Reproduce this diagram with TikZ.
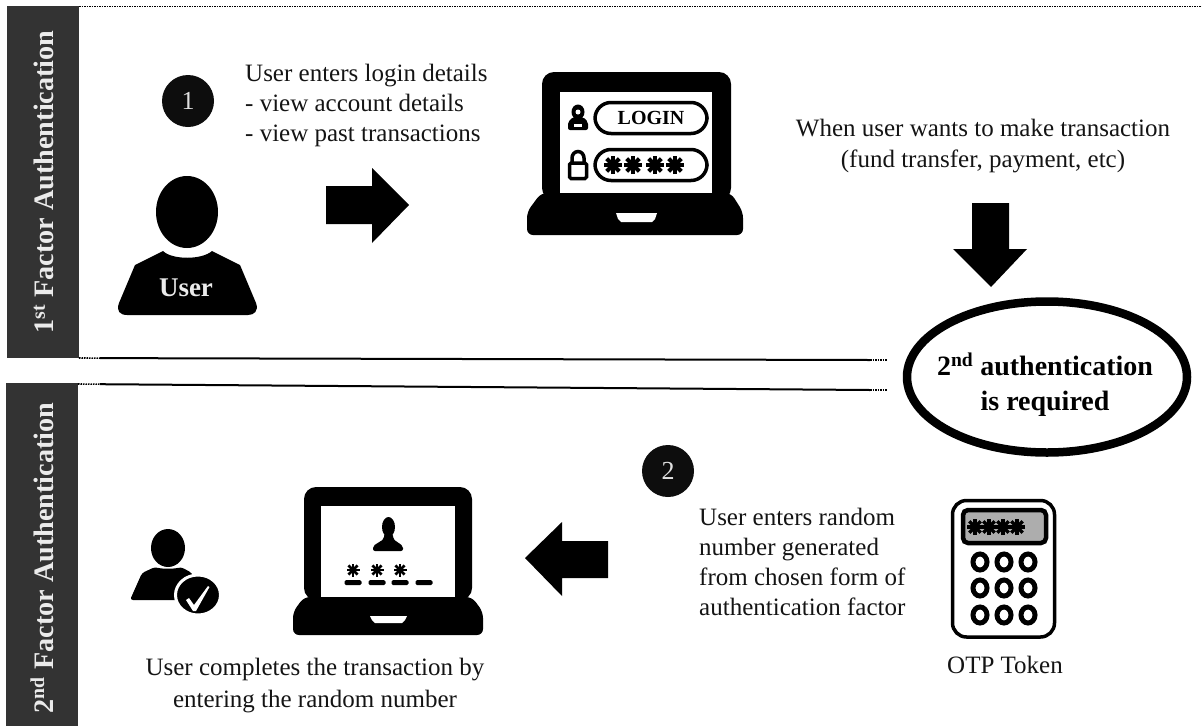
\documentclass[tikz,border=0pt]{standalone}
\usepackage{fontspec}
\usetikzlibrary{shapes.geometric,calc}
\setmainfont{Liberation Serif}
\tikzset{
  txt/.style={font=\fontsize{25}{30}\selectfont,inner sep=0pt,text=black!92},
  bandtxt/.style={font=\fontsize{28.2}{30}\selectfont\bfseries,text=white!92!black,rotate=90,inner sep=0pt},
  band/.style={fill=black!80,draw=none},
  blk/.style={fill=black,draw=none},
  wht/.style={fill=white,draw=none},
  numdisc/.style={circle,fill=black!95,minimum size=52pt,inner sep=0pt,text=white!88!black,font=\fontsize{26}{28}\selectfont},
  rule/.style={draw=black,line width=2pt},
  dots/.style={draw=black,line width=1.6pt,dash pattern=on 1.5pt off 1pt},
  pill/.style={draw=black,line width=3.5pt,fill=white,rounded corners=16pt},
}
\newcommand{\astr}[4]{% x,y,radius,width
  \foreach \a in {0,45,90,135}{
    \draw[line width=#4,black] ($(#1,#2)+(\a:#3)$) -- ($(#1,#2)+(\a+180:#3)$);
  }
}
\begin{document}
\begin{tikzpicture}[x=1pt,y=-1pt]
\useasboundingbox (0,0) rectangle (1202,726);
% bands and rules
\fill[band] (7,6) rectangle (79,358);
\fill[band] (6,383) rectangle (78,726);
\node[bandtxt] (b1) at (44,182) {1\textsuperscript{st} Factor Authentication};
\node[bandtxt] (b2) at (42,558) {2\textsuperscript{nd} Factor Authentication};
\draw[dots] (79,6.5) -- (1202,6.5);
\draw[dots] (79,358) -- (100,358.1);
\draw[rule] (100,358.1) -- (870,360);
\draw[dots] (870,360) -- (887,360);
\draw[dots] (78,384) -- (100,384.2);
\draw[rule] (100,384.2) -- (870,390);
\draw[dots] (870,390) -- (887,390);
% step 1
\node[numdisc] (n1) at (188,101) {1};
\fill[blk] (187,212) ellipse [x radius=31,y radius=36];
\fill[blk] (163,251) .. controls (172,260) and (202,260) .. (212,251) -- (240,265)
  -- (256,303) .. controls (259,311) and (254,315) .. (248,315) -- (127,315)
  .. controls (120,315) and (116,311) .. (119,303) -- (135,265) -- cycle;
\node[font=\fontsize{27}{28}\selectfont\bfseries,text=white!92!black,inner sep=0pt] (u) at (186,288) {User};
\node[txt,align=left,anchor=west] (t1) at (245,105) {User enters login details\\- view account details\\- view past transactions};
\fill[blk] (326,186) -- (372,186) -- (372,168) -- (409,205) -- (372,243) -- (372,224) -- (326,224) -- cycle;
% laptop 1
\fill[blk,rounded corners=12pt] (542,200) -- (542,72) -- (731,72) -- (731,200) -- cycle;
\fill[blk,rounded corners=6pt] (541,193) -- (527,212) -- (527,235) -- (743,235) -- (743,212) -- (731,193) -- cycle;
\fill[wht] (560,92) rectangle (712,193);
\fill[wht] (616,213) -- (657,213) -- (655,219) -- (652,222) -- (621,222) -- (618,219) -- cycle;
\node[pill,minimum width=112pt,minimum height=31pt,inner sep=0pt,font=\fontsize{20}{20}\selectfont\bfseries] (login) at (651,118) {LOGIN};
\node[pill,minimum width=112pt,minimum height=31pt,inner sep=0pt] (pass) at (651,165) {};
\astr{613}{165}{9}{4pt}
\astr{633}{165}{9}{4pt}
\astr{655}{165}{9}{4pt}
\astr{675}{165}{9}{4pt}
\fill[blk] (578,112) ellipse [x radius=6.5,y radius=7.5];
\fill[blk,rounded corners=2pt] (568,130) -- (568,122) -- (573,117) -- (583,117) -- (588,122) -- (588,130) -- cycle;
\fill[wht] (578,112) circle [radius=2.5];
\fill[wht] (574,124) rectangle (582,127);
\draw[line width=3.5pt] (572,163) -- (572,158) arc [start angle=180,end angle=360,x radius=6,y radius=6.5] -- (584,163);
\draw[line width=3.5pt,fill=white,rounded corners=1.5pt] (569.5,163) rectangle (586.5,178.5);
% top right
\node[txt,align=center] (t2) at (983,146.5) {When user wants to make transaction\\[1pt](fund transfer, payment, etc)};
\fill[blk] (972,203) -- (1009,203) -- (1009,249) -- (1027,249) -- (991,287) -- (953,249) -- (972,249) -- cycle;
\node[ellipse,draw=black,line width=8.5pt,minimum width=280pt,minimum height=151pt,inner sep=0pt] (e) at (1047,377) {};
\node[align=center,inner sep=0pt,font=\fontsize{28}{35}\selectfont\bfseries] (et) at (1045,385) {2\textsuperscript{nd} authentication\\is required};
% step 2
\node[numdisc] (n2) at (668,471) {2};
\node[txt,align=left,anchor=west] (t3) at (699,562) {User enters random\\number generated\\from chosen form of\\authentication factor};
\fill[blk] (608,541) -- (562,541) -- (562,522) -- (525,558) -- (562,596) -- (562,578) -- (608,578) -- cycle;
% otp
\draw[line width=3.5pt,fill=white,rounded corners=14pt] (952.5,500.5) rectangle (1054.5,637);
\draw[line width=4.5pt,fill=black!32,rounded corners=5pt] (963,510) rectangle (1046,543);
\astr{975}{527}{8}{3.5pt}
\astr{989}{527}{8}{3.5pt}
\astr{1003}{527}{8}{3.5pt}
\astr{1017}{527}{8}{3.5pt}
\foreach \x in {980,1004,1028}\foreach \y in {562,588,615}{
  \draw[line width=5pt] (\x,\y) ellipse [x radius=7,y radius=8];
}
\node[txt] (ot) at (1005,665) {OTP Token};
% laptop 2
\fill[blk,rounded corners=12pt] (304,600) -- (304,487) -- (472,487) -- (472,600) -- cycle;
\fill[blk,rounded corners=6pt] (304,597) -- (293,612) -- (293,635) -- (483,635) -- (483,612) -- (472,597) -- cycle;
\fill[wht] (321,506) rectangle (455,597);
\fill[wht] (370,616) -- (407,616) -- (405,620) -- (402,623) -- (375,623) -- (372,620) -- cycle;
\fill[blk] (388.5,527) ellipse [x radius=6.5,y radius=10];
\fill[blk,rounded corners=2pt] (373,551) -- (373,546) -- (384,539) -- (384,534) -- (393,534) -- (393,539) -- (403,546) -- (403,551) -- cycle;
\astr{353}{570}{6.5}{2.6pt}
\astr{377}{570}{6.5}{2.6pt}
\astr{400}{570}{6.5}{2.6pt}
\foreach \x in {353,377,400,424}{
  \fill[blk,rounded corners=1.5pt] (\x-8.5,580) rectangle (\x+8.5,585);
}
% user ok
\fill[blk] (168,548) ellipse [x radius=17,y radius=19];
\fill[blk,rounded corners=3pt] (142,573) -- (155,567) .. controls (162,569) and (174,569) .. (181,567) -- (192,573) -- (200,600) -- (130,600) -- cycle;
\draw[draw=white,line width=3pt,fill=black] (198,595) ellipse [x radius=22.5,y radius=20];
\fill[white] (186,600) -- (189,598) -- (194,605) -- (208,586) -- (209.5,587) -- (196,611) -- (193,611) -- cycle;
\node[txt,align=center] (t4) at (315,686) {User completes the transaction by\\[2pt]entering the random number};
\end{tikzpicture}
\end{document}
